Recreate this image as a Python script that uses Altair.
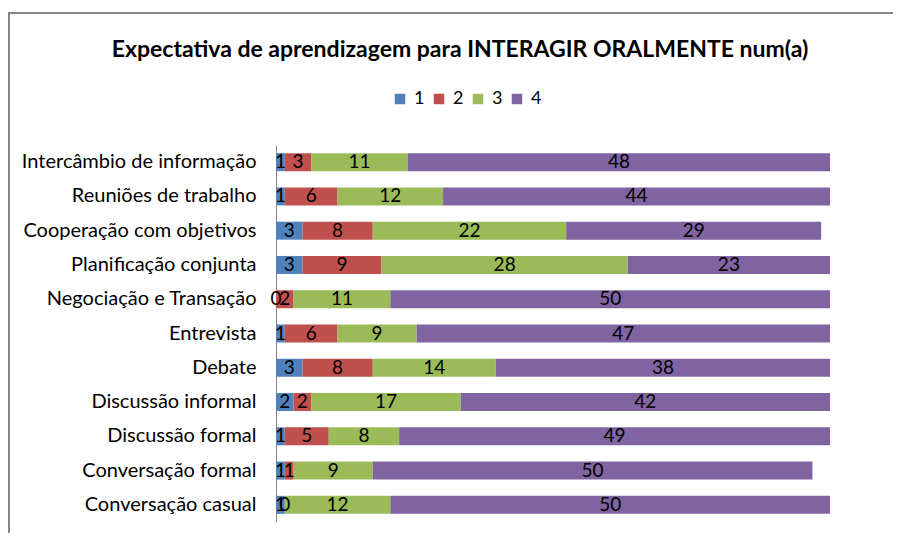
import altair as alt
import pandas as pd

categories = [
    "Intercâmbio de informação",
    "Reuniões de trabalho",
    "Cooperação com objetivos",
    "Planificação conjunta",
    "Negociação e Transação",
    "Entrevista",
    "Debate",
    "Discussão informal",
    "Discussão formal",
    "Conversação formal",
    "Conversação casual",
]
levels = ["1", "2", "3", "4"]
s1 = [1, 1, 3, 3, 0, 1, 3, 2, 1, 1, 1]
s2 = [3, 6, 8, 9, 2, 6, 8, 2, 5, 1, 0]
s3 = [11, 12, 22, 28, 11, 9, 14, 17, 8, 9, 12]
s4 = [48, 44, 29, 23, 50, 47, 38, 42, 49, 50, 50]
colors = ["#4F81BD", "#C0504D", "#9BBB59", "#8064A2"]
title = "Expectativa de aprendizagem para INTERAGIR ORALMENTE num(a)"

rows = []
for series, lev in zip([s1, s2, s3, s4], levels):
    for i, (c, v) in enumerate(zip(categories, series)):
        rows.append({"cat": c, "level": lev, "order": int(lev), "value": v})
df = pd.DataFrame(rows)

FONT = "Lato"
FRAME = "#878787"

base = alt.Chart(df).transform_stack(
    stack="value", groupby=["cat"], as_=["x0", "x1"], sort=[alt.SortField("order")]
).transform_calculate(mid="(datum.x0 + datum.x1) / 2")

yenc = alt.Y(
    "cat:N",
    sort=categories,
    scale=alt.Scale(paddingInner=0.475),
    axis=alt.Axis(
        title=None,
        ticks=False,
        domainColor="#868686",
        labelFont=FONT,
        labelFontSize=20,
        labelColor="#000000",
        labelPadding=20,
        labelLimit=400,
    ),
)
xscale = alt.Scale(domain=[0, 63], nice=False, zero=True)

bars = base.mark_bar().encode(
    x=alt.X("x0:Q", scale=xscale, axis=None),
    x2="x1:Q",
    y=yenc,
    color=alt.Color(
        "level:N",
        scale=alt.Scale(domain=levels, range=colors),
        legend=alt.Legend(
            title=None,
            orient="none",
            direction="horizontal",
            legendX=115,
            legendY=-55,
            symbolType="square",
            symbolSize=110,
            symbolStrokeWidth=0,
            labelFont=FONT,
            labelFontSize=18,
            labelColor="#000000",
            columnPadding=5,
            labelOffset=5,
        ),
    ),
)

labels = base.mark_text(font=FONT, fontSize=19, color="#000000", baseline="middle").encode(
    x=alt.X("mid:Q", scale=xscale, axis=None),
    y=alt.Y("cat:N", sort=categories),
    text=alt.Text("value:Q"),
)

# decorative outer frame (top and left edges of the chart area)
one = pd.DataFrame({"k": [0]})
frame_top = alt.Chart(one).mark_rule(color=FRAME, strokeWidth=2).encode(
    x=alt.value(-267), x2=alt.value(620), y=alt.value(-132)
)
frame_left = alt.Chart(one).mark_rule(color=FRAME, strokeWidth=2).encode(
    x=alt.value(-267), y=alt.value(-133), y2=alt.value(400)
)

chart = (
    alt.layer(bars, labels, frame_top, frame_left)
    .properties(
        width=554,
        height=377,
        title=alt.TitleParams(
            text=title,
            font=FONT,
            fontSize=23,
            fontWeight="bold",
            color="#000000",
            anchor="middle",
            dx=-93,
            offset=-69,
            baseline="alphabetic",
        ),
        autosize=alt.AutoSizeParams(type="none"),
        padding={"left": 268, "top": 137, "right": 63, "bottom": 11},
    )
    .configure(background="white", view=alt.ViewConfig(stroke="transparent", strokeWidth=0))
)

chart.save("out.html", embed_options={"renderer": "svg", "actions": False})
